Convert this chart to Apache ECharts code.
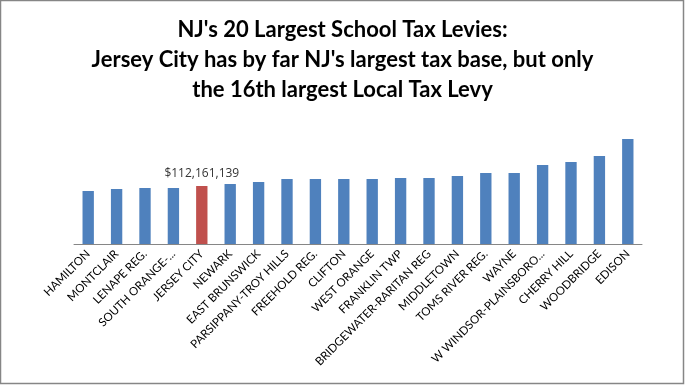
<!DOCTYPE html>
<html>
<head>
<meta charset="utf-8">
<script src="https://cdn.jsdelivr.net/npm/echarts@6/dist/echarts.min.js"></script>
<style>
html,body{margin:0;padding:0;background:#fff;}
#chart{width:685px;height:385px;}
</style>
</head>
<body>
<div id="chart"></div>
<script>
var titleLines = [
  "NJ's 20 Largest School Tax Levies:",
  "Jersey City has by far NJ's largest tax base, but only",
  "the 16th largest Local Tax Levy"
];
var categories = [
  "HAMILTON", "MONTCLAIR", "LENAPE REG.", "SOUTH ORANGE-...", "JERSEY CITY",
  "NEWARK", "EAST BRUNSWICK", "PARSIPPANY-TROY HILLS", "FREEHOLD REG.", "CLIFTON",
  "WEST ORANGE", "FRANKLIN TWP", "BRIDGEWATER-RARITAN REG", "MIDDLETOWN", "TOMS RIVER REG.",
  "WAYNE", "W WINDSOR-PLAINSBORO...", "CHERRY HILL", "WOODBRIDGE", "EDISON"
];
var levies = [
  102500000, 106400000, 108300000, 108300000, 112161139,
  116000000, 119900000, 125700000, 125700000, 125700000,
  125700000, 127600000, 127600000, 131500000, 137300000,
  137300000, 152800000, 158600000, 170200000, 203000000
];
var highlighted = "JERSEY CITY";

var blue = '#4F81BD', red = '#C0504D';
var seriesData = levies.map(function (v, i) {
  var d = { value: v, itemStyle: { color: categories[i] === highlighted ? red : blue } };
  if (categories[i] === highlighted) {
    d.label = {
      show: true, position: 'top', distance: 6,
      formatter: function (p) { return '$' + p.value.toLocaleString('en-US'); },
      fontFamily: 'Open Sans', fontSize: 12, color: '#333'
    };
  }
  return d;
});

var chart = echarts.init(document.getElementById('chart'), null, { renderer: 'canvas' });
chart.setOption({
  animation: false,
  backgroundColor: '#fff',
  title: {
    text: titleLines.join('\n'),
    left: 'center',
    top: 10,
    textStyle: { fontFamily: 'Lato', fontWeight: 'bold', fontSize: 22, lineHeight: 30, color: '#000' }
  },
  graphic: [{
    type: 'rect', shape: { x: 0.5, y: 0.5, width: 683, height: 383 },
    style: { fill: 'none', stroke: '#868686', lineWidth: 1.5 }, silent: true
  }],
  grid: { left: 74, right: 43, top: 130.25, bottom: 141, containLabel: false },
  xAxis: {
    type: 'category', data: categories,
    axisLine: { show: true, lineStyle: { color: '#868686', width: 1 } },
    axisTick: { show: false },
    axisLabel: { rotate: 45, interval: 0, margin: 8, fontFamily: 'Lato', fontSize: 11.5, color: '#000' }
  },
  yAxis: {
    type: 'value', min: 0, max: 220000000, show: false,
    splitLine: { show: false }
  },
  series: [{
    type: 'bar', data: seriesData, barWidth: '40%'
  }]
});
</script>
</body>
</html>
